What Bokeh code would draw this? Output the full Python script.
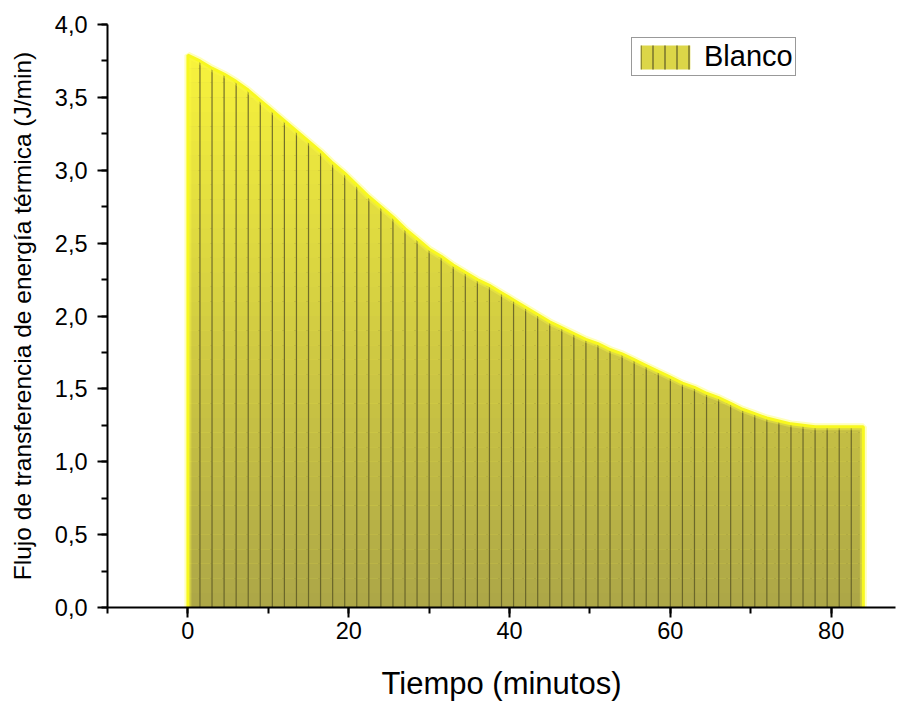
import numpy as np
from bokeh.plotting import figure
from bokeh.models import SingleIntervalTicker, CustomJSTickFormatter, Legend, LegendItem, Range1d
from bokeh.embed import file_html
from bokeh.resources import INLINE

# Data
tiempo = [0, 1.5, 3, 4.5, 6, 7.5, 9, 10.5, 12, 13.5, 15, 16.5, 18, 19.5, 21, 22.5,
          24, 25.5, 27, 28.5, 30, 31.5, 33, 34.5, 36, 37.5, 39, 40.5, 42, 43.5,
          45, 46.5, 48, 49.5, 51, 52.5, 54, 55.5, 57, 58.5, 60, 61.5, 63, 64.5,
          66, 67.5, 69, 70.5, 72, 73.5, 75, 76.5, 78, 79.5, 81, 82.5, 84]
flujo = [3.79, 3.75, 3.70, 3.66, 3.61, 3.55, 3.48, 3.41, 3.34, 3.27, 3.20, 3.13,
         3.05, 2.98, 2.90, 2.82, 2.75, 2.68, 2.60, 2.53, 2.46, 2.41, 2.35, 2.30,
         2.25, 2.21, 2.16, 2.11, 2.06, 2.01, 1.96, 1.92, 1.88, 1.84, 1.81, 1.77,
         1.74, 1.70, 1.66, 1.62, 1.58, 1.54, 1.51, 1.47, 1.44, 1.40, 1.36, 1.33,
         1.30, 1.28, 1.26, 1.25, 1.24, 1.24, 1.24, 1.24, 1.24]
serie = "Blanco"
x_label = "Tiempo (minutos)"
y_label = "Flujo de transferencia de energía térmica (J/min)"

FONT = "Liberation Sans"

p = figure(width=898, height=704, output_backend="svg", toolbar_location=None,
           x_range=Range1d(-10, 88), y_range=Range1d(0, 4.0),
           min_border_left=107, min_border_right=3, min_border_top=24, min_border_bottom=97)
p.outline_line_color = None
p.grid.visible = False
p.background_fill_color = "white"

x = np.array(tiempo, dtype=float)
y = np.array(flujo, dtype=float)

# base area (also used as the legend glyph); covered by the gradient bands
base = p.varea(x=x, y1=np.zeros(len(x)), y2=y, fill_color="#dcd648",
               hatch_pattern="vertical_line", hatch_scale=12, hatch_weight=1.2,
               hatch_color="#5e5a26")

# vertical gradient (olive at bottom -> yellow at top), drawn as horizontal bands
c_bot = np.array([172, 166, 72])
c_top = np.array([252, 248, 60])
edges = np.linspace(0, 4.0, 41)
for lo, hi in zip(edges[:-1], edges[1:]):
    t = (lo + hi) / 2 / 4.0
    c = (c_bot + (c_top - c_bot) * t).astype(int)
    col = "#%02x%02x%02x" % tuple(c)
    p.varea(x=x, y1=np.minimum(y, lo), y2=np.minimum(y, hi), fill_color=col)

# vertical drop lines
p.segment(x0=x[1:-1], y0=np.zeros(len(x) - 2), x1=x[1:-1], y1=y[1:-1],
          line_color="#5e5a26", line_width=1.2, line_alpha=0.85)

# bright outline with glow
ox = np.concatenate([[x[0]], x, [x[-1]]])
oy = np.concatenate([[0], y, [0]])
p.line(ox, oy, line_color="#ffff40", line_width=7, line_alpha=0.35)
p.line(ox, oy, line_color="#f8f820", line_width=3)

legend = Legend(items=[LegendItem(label=serie, renderers=[base])],
                location=(524, 531), glyph_width=62, glyph_height=30,
                padding=2, margin=0, spacing=0, label_standoff=8,
                label_text_font=FONT, label_text_font_size="29px",
                label_text_color="black", border_line_color="#333333",
                border_line_width=1, background_fill_color="white",
                background_fill_alpha=1.0)
p.add_layout(legend)

# axes
p.xaxis.ticker = SingleIntervalTicker(interval=20, num_minor_ticks=2)
p.yaxis.ticker = SingleIntervalTicker(interval=0.5, num_minor_ticks=2)
p.yaxis.formatter = CustomJSTickFormatter(code="return tick.toFixed(1).replace('.', ',');")
p.xaxis.formatter = CustomJSTickFormatter(code="return tick.toFixed(0);")
for ax in (p.xaxis, p.yaxis):
    ax.axis_line_width = 2
    ax.axis_line_color = "black"
    ax.major_tick_line_width = 2
    ax.minor_tick_line_width = 2
    ax.major_tick_out = 10
    ax.major_tick_in = 0
    ax.minor_tick_out = 6
    ax.minor_tick_in = 0
    ax.major_label_text_font = FONT
    ax.major_label_text_font_size = "23.5px"
    ax.major_label_text_color = "black"
    ax.axis_label_text_font = FONT
    ax.axis_label_text_font_style = "normal"
    ax.axis_label_text_color = "black"

p.xaxis.axis_label = x_label
p.xaxis.axis_label_text_font_size = "31px"
p.xaxis.major_label_standoff = 4
p.xaxis.axis_label_standoff = 24

p.yaxis.axis_label = y_label
p.yaxis.axis_label_text_font_size = "24.5px"
p.yaxis.major_label_standoff = 10
p.yaxis.axis_label_standoff = 16

open("out.html", "w").write(file_html(p, INLINE))
